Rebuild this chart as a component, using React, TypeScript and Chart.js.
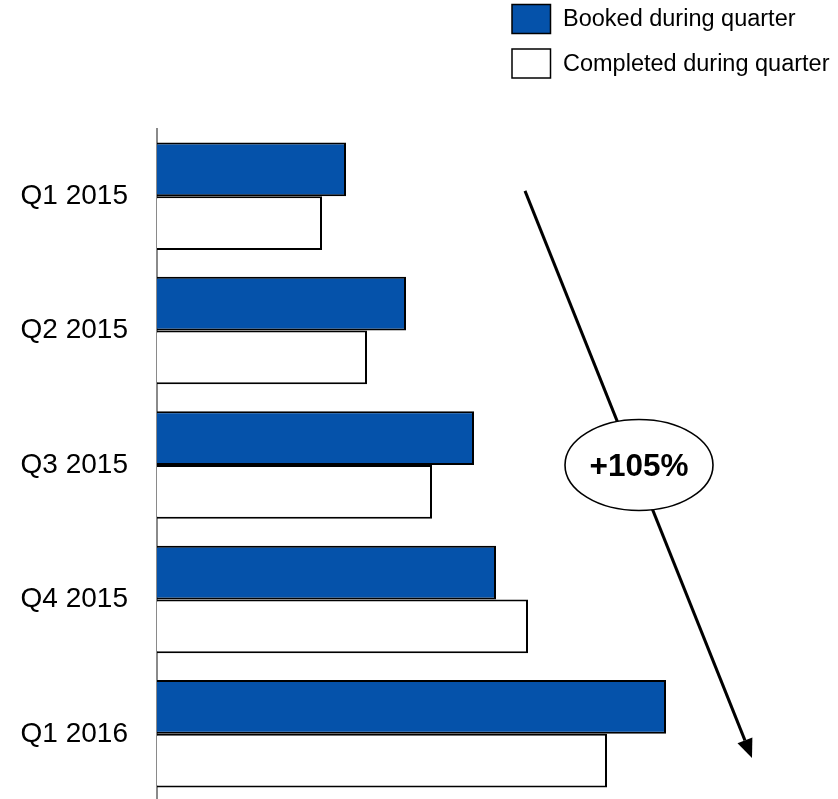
import React, { useEffect, useRef } from "react";
import { Chart, registerables } from "chart.js";

Chart.register(...registerables);

const categories = ["Q1 2015", "Q2 2015", "Q3 2015", "Q4 2015", "Q1 2016"];
const bookedValues = [189, 249, 317, 339, 509];
const completedValues = [165, 210, 275, 371, 450];
const seriesNames = ["Booked during quarter", "Completed during quarter"];
const changeLabel = "+105%";
// arrow annotation in data units: [x value, category index]
const arrowStart = [368, -0.04];
const arrowEnd = [595, 4.18];
const labelAnchor = [482, 2.0];

const BLUE = "#0552AA";
const FONT = "'Liberation Sans', Arial, Helvetica, sans-serif";

const overlayPlugin = {
  id: "overlay",
  afterDraw(chart: any) {
    const ctx = chart.ctx;
    const xs = chart.scales.x;
    const ys = chart.scales.y;
    ctx.save();
    // legend
    const items = [
      { name: seriesNames[0], fill: BLUE, y: 4 },
      { name: seriesNames[1], fill: "#ffffff", y: 48.5 },
    ];
    ctx.font = `23.5px ${FONT}`;
    ctx.textBaseline = "middle";
    ctx.textAlign = "left";
    for (const it of items) {
      ctx.fillStyle = it.fill;
      ctx.fillRect(512, it.y + 0.5, 38.5, 29);
      ctx.strokeStyle = "#000";
      ctx.lineWidth = 1.5;
      ctx.strokeRect(512, it.y + 0.5, 38.5, 29);
      ctx.fillStyle = "#000";
      ctx.fillText(it.name, 563, it.y + 16);
    }
    // arrow
    const x1 = xs.getPixelForValue(arrowStart[0]);
    const y1 = ys.getPixelForValue(arrowStart[1]);
    const x2 = xs.getPixelForValue(arrowEnd[0]);
    const y2 = ys.getPixelForValue(arrowEnd[1]);
    const ang = Math.atan2(y2 - y1, x2 - x1);
    const headLen = 19;
    const headW = 8;
    const bx = x2 - headLen * Math.cos(ang);
    const by = y2 - headLen * Math.sin(ang);
    ctx.strokeStyle = "#000";
    ctx.lineWidth = 3;
    ctx.beginPath();
    ctx.moveTo(x1, y1);
    ctx.lineTo(bx, by);
    ctx.stroke();
    ctx.fillStyle = "#000";
    ctx.beginPath();
    ctx.moveTo(x2, y2);
    ctx.lineTo(bx + headW * Math.sin(ang), by - headW * Math.cos(ang));
    ctx.lineTo(bx - headW * Math.sin(ang), by + headW * Math.cos(ang));
    ctx.closePath();
    ctx.fill();
    // ellipse label
    const cx = xs.getPixelForValue(labelAnchor[0]);
    const cy = ys.getPixelForValue(labelAnchor[1]);
    ctx.beginPath();
    ctx.ellipse(cx, cy, 74, 45.5, 0, 0, Math.PI * 2);
    ctx.fillStyle = "#ffffff";
    ctx.fill();
    ctx.lineWidth = 1.6;
    ctx.strokeStyle = "#000";
    ctx.stroke();
    ctx.fillStyle = "#000";
    ctx.font = `bold 31.5px ${FONT}`;
    ctx.textAlign = "center";
    ctx.textBaseline = "middle";
    ctx.fillText(changeLabel, cx, cy + 2);
    ctx.restore();
  },
};

export default function App() {
  const ref = useRef<HTMLCanvasElement>(null);
  useEffect(() => {
    if (!ref.current) return;
    const chart = new Chart(ref.current, {
      type: "bar",
      data: {
        labels: categories,
        datasets: [
          {
            label: seriesNames[0],
            data: bookedValues,
            backgroundColor: BLUE,
            borderColor: "#000",
            borderWidth: 2,
            borderSkipped: "start",
          },
          {
            label: seriesNames[1],
            data: completedValues,
            backgroundColor: "#ffffff",
            borderColor: "#000",
            borderWidth: 2,
            borderSkipped: "start",
          },
        ],
      },
      options: {
        indexAxis: "y",
        responsive: true,
        maintainAspectRatio: false,
        animation: false,
        events: [],
        layout: { padding: { top: 129, right: 1, bottom: 0, left: 0 } },
        datasets: {
          bar: { categoryPercentage: 0.8, barPercentage: 1.0 },
        },
        plugins: {
          legend: { display: false },
          tooltip: { enabled: false },
          title: { display: false },
        },
        scales: {
          x: {
            display: false,
            min: 0,
            max: 680,
          },
          y: {
            afterFit: (scale: any) => {
              scale.width = 157;
              scale.paddingTop = 0;
              scale.paddingBottom = 0;
            },
            grid: { display: false, drawTicks: false },
            border: { display: true, color: "#8a8a8a", width: 2 },
            ticks: {
              color: "#000",
              padding: 29,
              font: { family: FONT, size: 28 },
            },
          },
        },
      },
      plugins: [overlayPlugin],
    });
    return () => chart.destroy();
  }, []);
  return (
    <div style={{ position: "absolute", left: 0, top: 0, width: 838, height: 801, background: "#fff" }}>
      <canvas ref={ref} />
    </div>
  );
}
